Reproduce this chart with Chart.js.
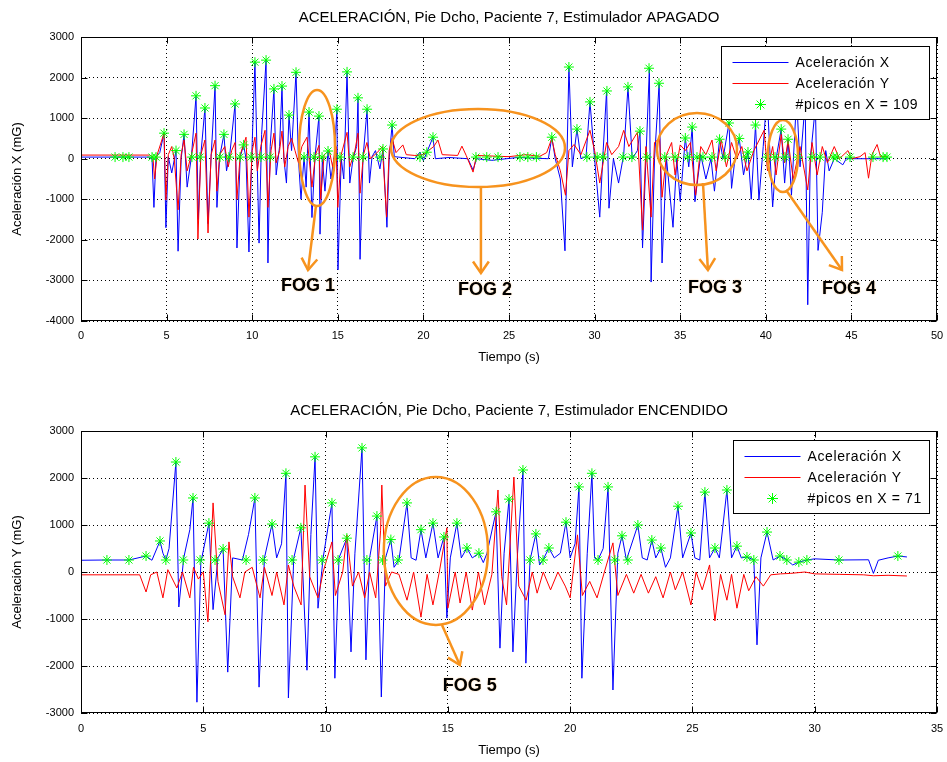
<!DOCTYPE html>
<html>
<head>
<meta charset="utf-8">
<script src="https://cdn.jsdelivr.net/npm/chart.js@4/dist/chart.umd.min.js"></script>
<style>
  body { margin: 0; background: #fff; }
  .panel { position: absolute; left: 0; width: 947px; height: 381px; }
</style>
</head>
<body>
<div class="panel" style="top:0"><canvas id="apagado" width="947" height="381"></canvas></div>
<div class="panel" style="top:381px"><canvas id="encendido" width="947" height="381"></canvas></div>
<script>
// ---- data: [tiempo (s), aceleracion (mG)] ----
const topAccX = [
  [0,40],[4.0,40],[4.15,0],[4.26,-1200],[4.38,50],[4.6,150],[4.85,630],[4.96,-1700],[5.1,50],[5.3,-350],
  [5.55,200],[5.67,-2280],[5.85,0],[6.02,600],[6.2,-700],[6.45,50],[6.72,1550],[6.85,-1500],[7.0,100],[7.24,1250],
  [7.42,-1600],[7.6,50],[7.83,1800],[7.94,-1200],[8.1,50],[8.35,600],[8.5,-300],[8.7,150],[9.0,1350],[9.11,-2200],
  [9.3,50],[9.5,340],[9.64,0],[9.81,-2300],[10.0,400],[10.16,2380],[10.4,-2080],[10.55,600],[10.81,2430],[10.92,-2570],
  [11.05,300],[11.27,1720],[11.4,-400],[11.6,300],[11.74,1790],[11.85,0],[12.0,-600],[12.15,1075],[12.3,200],[12.56,2130],
  [12.7,0],[12.85,-1000],[13.03,50],[13.15,-700],[13.32,1150],[13.49,-1450],[13.67,50],[13.9,1050],[13.96,-1860],[14.1,0],
  [14.25,-800],[14.43,200],[14.6,-500],[14.8,100],[14.95,1220],[15.01,-2740],[15.2,0],[15.35,-500],[15.54,2140],[15.7,-600],
  [15.89,0],[16.1,300],[16.18,1500],[16.3,-2480],[16.47,0],[16.71,1220],[16.85,-600],[17.0,50],[17.2,200],[17.46,-250],
  [17.64,240],[17.87,-1690],[18.0,0],[18.17,830],[18.3,50],[19.5,0],[19.8,165],[20.0,-50],[20.56,530],[20.7,0],
  [21.5,30],[22.6,0],[22.9,-280],[23.1,0],[24.0,-40],[25.5,30],[27.3,0],[27.5,530],[27.7,0],[28.0,-500],
  [28.27,-2270],[28.5,2260],[28.7,-200],[28.97,730],[29.2,0],[29.5,50],[29.73,1400],[30.0,0],[30.3,-1440],[30.5,200],
  [30.7,1670],[30.84,-1220],[31.1,0],[31.4,-600],[31.7,100],[31.95,1770],[32.2,0],[32.5,200],[32.65,680],[32.8,-2200],
  [33.2,2230],[33.3,-3040],[33.5,0],[33.77,1860],[33.94,-2570],[34.2,0],[34.58,-1690],[34.8,0],[35.0,-1050],[35.3,510],
  [35.5,-200],[35.7,780],[35.86,-1060],[36.2,100],[36.5,-500],[36.8,0],[37.0,-800],[37.3,480],[37.5,0],[37.85,880],
  [38.0,-730],[38.2,0],[38.45,500],[38.7,-400],[38.96,165],[39.15,-1000],[39.4,830],[39.6,-1020],[39.85,300],[40.07,1600],
  [40.4,-1190],[40.6,0],[40.9,730],[41.1,-600],[41.3,480],[41.5,-900],[41.8,1500],[42.0,-200],[42.3,1400],[42.45,-3600],
  [42.6,0],[42.9,1300],[43.05,-2260],[43.3,-1320],[43.5,200],[43.7,-300],[44.0,0],[44.5,-150],[44.7,0],[47.1,0]
];
const topAccY = [
  [0,90],[4.0,90],[4.2,50],[4.3,-500],[4.45,100],[4.85,630],[4.96,-1020],[5.1,100],[5.3,300],[5.45,0],
  [5.67,-1260],[5.85,100],[6.02,460],[6.2,-300],[6.45,100],[6.72,630],[6.83,-1980],[7.0,100],[7.24,460],[7.42,-1830],
  [7.6,100],[7.83,460],[7.94,-800],[8.1,100],[8.4,300],[8.6,-200],[8.8,200],[9.0,400],[9.11,-1000],[9.3,100],
  [9.64,530],[9.81,-1440],[10.0,200],[10.16,530],[10.3,-300],[10.5,300],[10.75,700],[10.92,-1200],[11.1,200],[11.27,630],
  [11.4,-100],[11.6,200],[11.74,680],[11.9,-200],[12.1,300],[12.3,500],[12.5,200],[12.7,-100],[12.9,300],[13.2,530],
  [13.49,-700],[13.7,100],[13.9,330],[14.0,-1000],[14.2,100],[14.5,200],[14.7,-200],[14.9,300],[15.0,-1200],[15.2,100],
  [15.54,650],[15.7,-200],[16.0,200],[16.18,630],[16.3,-850],[16.5,100],[16.7,400],[16.9,0],[17.3,150],[17.6,300],
  [17.85,-1440],[18.0,200],[18.17,500],[18.4,150],[18.8,340],[19.0,100],[19.5,80],[20.0,100],[20.6,300],[20.85,460],
  [21.1,100],[22.0,80],[22.25,310],[22.5,80],[22.9,-330],[23.1,80],[25.0,50],[26.0,100],[26.8,60],[27.2,150],
  [27.5,500],[27.7,100],[28.0,-300],[28.3,-900],[28.5,200],[28.8,350],[29.2,100],[29.73,700],[30.0,200],[30.3,-600],
  [30.7,400],[31.0,100],[31.4,300],[31.7,700],[32.0,300],[32.5,650],[32.8,-1760],[33.0,300],[33.3,-1440],[33.5,400],
  [33.8,500],[33.94,-950],[34.2,100],[34.5,400],[34.7,-400],[35.0,340],[35.3,200],[35.6,400],[35.9,-900],[36.2,300],
  [36.5,100],[36.86,460],[37.1,-300],[37.4,460],[37.7,-200],[38.0,400],[38.3,0],[38.6,300],[38.9,-300],[39.3,200],
  [39.9,700],[40.1,-300],[40.4,300],[40.6,-400],[40.9,600],[41.1,-100],[41.3,450],[41.6,-500],[42.0,300],[42.45,-770],
  [42.7,400],[43.0,-400],[43.3,300],[43.6,-100],[44.0,300],[44.3,0],[44.8,200],[45.0,0],[45.5,50],[45.8,150],
  [46.0,-480],[46.2,100],[46.5,350],[46.7,50],[47.1,60]
];
const topPeaksX = [
  [1.99,40],[2.45,40],[2.8,40],[4.15,40],[4.38,40],[4.85,630],[5.55,200],[6.02,600],[6.48,40],[6.72,1550],
  [6.95,40],[7.24,1250],[7.83,1800],[8.12,40],[8.35,600],[8.64,40],[9.0,1350],[9.29,40],[9.5,340],[9.93,40],
  [10.16,2380],[10.51,40],[10.81,2430],[11.04,40],[11.27,1720],[11.74,1790],[12.15,1075],[12.56,2130],[13.03,40],[13.32,1150],
  [13.61,40],[13.9,1050],[14.08,40],[14.43,190],[14.95,1220],[15.13,40],[15.54,2140],[15.89,40],[16.18,1500],[16.47,40],
  [16.71,1220],[17.46,40],[17.64,240],[18.17,830],[19.8,40],[20.2,160],[20.56,530],[23.07,40],[23.7,40],[24.36,40],
  [25.64,40],[26.1,40],[26.6,40],[27.5,530],[28.5,2260],[28.97,730],[29.55,40],[29.73,1400],[30.15,40],[30.5,40],
  [30.72,1670],[31.66,40],[31.95,1770],[32.18,40],[32.65,680],[33.06,40],[33.18,2230],[33.76,1860],[34.1,40],[34.7,40],
  [35.3,510],[35.45,40],[35.7,780],[35.98,40],[36.33,40],[36.86,40],[37.3,480],[37.62,40],[37.85,880],[38.45,500],
  [38.85,40],[38.96,165],[39.4,830],[40.07,40],[40.54,40],[40.9,730],[41.12,40],[41.3,480],[41.88,40],[42.7,40],
  [43.17,40],[43.93,40],[44.16,40],[44.92,40],[46.26,40],[46.85,40],[47.08,40]
];

const bottomAccX = [
  [0,250],[1.0,255],[1.96,255],[2.66,340],[2.9,250],[3.23,660],[3.35,400],[3.47,255],[3.6,500],[3.88,2340],
  [4.0,-745],[4.2,300],[4.45,900],[4.58,1575],[4.74,-2770],[4.9,200],[5.23,1040],[5.4,-800],[5.6,300],[5.81,490],
  [6.0,-2130],[6.2,300],[6.6,255],[6.85,800],[7.11,1575],[7.28,-2450],[7.5,300],[7.81,1020],[8.0,300],[8.2,600],
  [8.38,2100],[8.48,-2680],[8.7,300],[8.99,940],[9.24,-2090],[9.4,800],[9.57,2450],[9.69,-770],[9.9,300],[10.26,1470],
  [10.38,-2260],[10.55,300],[10.87,720],[11.04,-1700],[11.2,400],[11.49,2640],[11.65,-1870],[11.8,300],[12.1,1190],[12.28,-2660],
  [12.45,300],[12.67,690],[12.8,100],[13.0,255],[13.33,1470],[13.5,300],[13.7,250],[13.9,900],[14.1,300],[14.39,1040],
  [14.6,300],[14.84,745],[14.96,-980],[15.1,300],[15.37,1040],[15.55,300],[15.78,510],[16.0,300],[16.27,400],[16.45,200],
  [16.6,400],[16.97,1280],[17.13,-1620],[17.3,400],[17.5,1550],[17.66,-1700],[17.85,400],[18.07,2170],[18.19,-1940],[18.36,255],
  [18.6,810],[18.75,150],[18.89,255],[19.13,510],[19.35,300],[19.6,400],[19.83,1060],[20.0,300],[20.2,600],[20.36,1810],
  [20.48,-2260],[20.7,400],[20.89,2100],[21.0,300],[21.14,255],[21.35,500],[21.55,1810],[21.75,-2510],[21.95,400],[22.12,770],
  [22.3,255],[22.77,1000],[22.95,300],[23.15,255],[23.34,680],[23.5,300],[23.71,510],[23.9,100],[24.1,300],[24.41,1400],
  [24.6,300],[24.94,830],[25.1,300],[25.3,255],[25.51,1700],[25.7,300],[25.92,510],[26.1,300],[26.41,1745],[26.6,300],
  [26.82,550],[27.0,300],[27.23,320],[27.51,255],[27.64,-1550],[27.8,300],[28.05,850],[28.3,255],[28.58,340],[28.86,255],
  [29.1,150],[29.35,210],[29.68,255],[30.0,280],[31.0,255],[32.2,260],[32.4,-30],[32.6,250],[33.0,300],[33.4,340],
  [33.77,320]
];
const bottomAccY = [
  [0,-60],[2.4,-60],[2.66,-425],[2.85,-60],[3.1,0],[3.35,-550],[3.55,50],[3.92,-340],[4.15,0],[4.45,-550],
  [4.6,100],[4.8,-150],[5.0,0],[5.19,-1060],[5.4,1470],[5.6,-200],[5.89,-910],[6.05,640],[6.2,-100],[6.5,-550],
  [6.7,0],[7.0,100],[7.32,-550],[7.5,100],[7.81,-500],[8.0,0],[8.3,-700],[8.48,150],[8.7,-300],[9.0,-700],
  [9.16,1850],[9.35,-100],[9.69,-550],[9.9,0],[10.26,640],[10.4,-500],[10.7,0],[10.87,790],[11.1,-300],[11.35,0],
  [11.6,-550],[11.8,0],[12.05,-550],[12.25,890],[12.3,1850],[12.45,-300],[12.7,0],[13.0,-50],[13.33,-600],[13.6,0],
  [13.9,-960],[14.15,-50],[14.39,-700],[14.65,0],[14.96,940],[15.0,-770],[15.3,0],[15.5,-660],[15.75,0],[16.0,-810],
  [16.25,0],[16.5,-700],[16.8,-50],[17.05,1745],[17.2,-100],[17.4,-700],[17.7,2020],[17.9,-300],[18.2,-600],[18.45,0],
  [18.65,-450],[18.9,0],[19.2,-380],[19.5,0],[19.8,-300],[20.0,-550],[20.3,790],[20.5,-500],[20.8,-200],[21.1,-550],
  [21.4,0],[21.75,620],[21.95,-500],[22.3,-50],[22.6,-450],[22.9,-50],[23.2,-450],[23.5,-100],[23.8,-550],[24.1,0],
  [24.3,-380],[24.6,0],[24.94,-700],[25.15,0],[25.4,-380],[25.7,150],[25.92,-1040],[26.15,-50],[26.41,-600],[26.6,-50],
  [26.82,-770],[27.1,-50],[27.3,-400],[27.6,-100],[27.9,-300],[28.2,-60],[28.6,-40],[29.0,-30],[29.6,0],[30.0,-40],
  [31.0,-50],[32.0,-60],[32.4,-80],[33.0,-70],[33.77,-85]
];
const bottomPeaksX = [
  [1.06,255],[1.96,255],[2.66,340],[3.23,660],[3.47,255],[3.88,2340],[4.18,255],[4.58,1575],[4.87,255],[5.23,1040],
  [5.48,255],[5.81,490],[6.75,255],[7.11,1575],[7.44,255],[7.81,1020],[8.38,2100],[8.63,255],[8.99,940],[9.57,2450],
  [9.85,255],[10.26,1470],[10.51,255],[10.87,720],[11.49,2640],[11.69,255],[12.1,1190],[12.33,255],[12.67,690],[12.96,255],
  [13.33,1470],[13.9,900],[14.39,1040],[14.84,745],[15.37,1040],[15.78,510],[16.27,400],[16.97,1280],[17.5,1550],[18.07,2170],
  [18.36,255],[18.6,810],[18.89,255],[19.13,510],[19.83,1060],[20.36,1810],[20.89,2100],[21.14,255],[21.55,1810],[21.83,255],
  [22.12,770],[22.36,255],[22.77,1000],[23.34,680],[23.71,510],[24.41,1400],[24.94,830],[25.51,1700],[25.92,510],[26.41,1745],
  [26.82,550],[27.23,320],[27.51,255],[28.05,850],[28.58,340],[28.86,255],[29.35,210],[29.68,255],[30.99,255],[33.4,340]
];

// orange FOG marks (data units)
const topFogs = [
  { label: 'FOG 1', cx: 13.79, cy: 264, rx: 1.05, ry: 1430, from: [13.73, -1141], to: [13.26, -2744], at: [13.26, -3140] },
  { label: 'FOG 2', cx: 23.19, cy: 264, rx: 5.08, ry: 961, from: [23.36, -672], to: [23.36, -2817], at: [23.6, -3236] },
  { label: 'FOG 3', cx: 35.98, cy: 239, rx: 2.34, ry: 887, from: [36.33, -599], to: [36.62, -2744], at: [37.03, -3187] },
  { label: 'FOG 4', cx: 41.0, cy: 67, rx: 0.88, ry: 887, from: [41.18, -772], to: [44.45, -2744], at: [44.86, -3211] }
];
const bottomFogs = [
  { label: 'FOG 5', cx: 14.51, cy: 447, rx: 2.13, ry: 1575, from: [14.76, -1128], to: [15.49, -1979], at: [15.9, -2426] }
];

const FONT = '"Liberation Sans", Arial, Helvetica, sans-serif';
const ORANGE = '#f7931e';

function starAt(ctx, x, y, r) {
  ctx.beginPath();
  for (let k = 0; k < 4; k++) {
    const a = k * Math.PI / 4;
    ctx.moveTo(x - r * Math.cos(a), y - r * Math.sin(a));
    ctx.lineTo(x + r * Math.cos(a), y + r * Math.sin(a));
  }
  ctx.stroke();
}

function matlabLook(fogs, legend) {
  return {
    id: 'matlabLook',
    beforeDraw(chart) {
      const ctx = chart.ctx;
      ctx.save();
      ctx.fillStyle = '#fff';
      ctx.fillRect(0, 0, chart.width, chart.height);
      ctx.restore();
    },
    afterDatasetsDraw(chart) {
      const { ctx, scales: { x, y } } = chart;
      ctx.save();
      // fog ellipses + arrows
      fogs.forEach(f => {
        const cx = x.getPixelForValue(f.cx), cy = y.getPixelForValue(f.cy);
        const rx = Math.abs(x.getPixelForValue(f.cx + f.rx) - cx);
        const ry = Math.abs(y.getPixelForValue(f.cy + f.ry) - cy);
        ctx.strokeStyle = ORANGE;
        ctx.lineWidth = 2.5;
        ctx.beginPath();
        ctx.ellipse(cx, cy, rx, ry, 0, 0, Math.PI * 2);
        ctx.stroke();
        const fx = x.getPixelForValue(f.from[0]), fy = y.getPixelForValue(f.from[1]);
        const tx = x.getPixelForValue(f.to[0]), ty = y.getPixelForValue(f.to[1]);
        ctx.beginPath();
        ctx.moveTo(fx, fy);
        ctx.lineTo(tx, ty);
        ctx.stroke();
        const ang = Math.atan2(ty - fy, tx - fx);
        ctx.beginPath();
        ctx.moveTo(tx - 14 * Math.cos(ang - 0.6), ty - 14 * Math.sin(ang - 0.6));
        ctx.lineTo(tx, ty);
        ctx.lineTo(tx - 14 * Math.cos(ang + 0.6), ty - 14 * Math.sin(ang + 0.6));
        ctx.stroke();
        ctx.font = 'bold 18px ' + FONT;
        ctx.textAlign = 'center';
        ctx.textBaseline = 'middle';
        ctx.shadowColor = 'rgba(247,147,30,0.55)';
        ctx.shadowBlur = 1.5;
        ctx.fillStyle = '#000';
        ctx.fillText(f.label, x.getPixelForValue(f.at[0]), y.getPixelForValue(f.at[1]));
        ctx.shadowBlur = 0;
      });
      ctx.restore();
    },
    afterDraw(chart) {
      const { ctx, chartArea: a, scales: { x, y } } = chart;
      ctx.save();
      ctx.strokeStyle = '#000';
      ctx.lineWidth = 1;
      const L = Math.round(a.left) + 0.5, R = Math.round(a.right) - 0.5;
      const T = Math.round(a.top) + 0.5, B = Math.round(a.bottom) - 0.5;
      ctx.beginPath();
      x.ticks.forEach(t => {
        const px = Math.round(x.getPixelForValue(t.value)) + 0.5;
        ctx.moveTo(px, B); ctx.lineTo(px, B - 6);
        ctx.moveTo(px, T); ctx.lineTo(px, T + 6);
      });
      y.ticks.forEach(t => {
        const py = Math.round(y.getPixelForValue(t.value)) + 0.5;
        ctx.moveTo(L, py); ctx.lineTo(L + 6, py);
        ctx.moveTo(R, py); ctx.lineTo(R - 6, py);
      });
      ctx.stroke();
      ctx.strokeRect(L, T, R - L, B - T);

      // legend box
      const bx = Math.round(a.right - 8 - legend.w) + 0.5, by = Math.round(a.top + 9) + 0.5;
      ctx.fillStyle = '#fff';
      ctx.fillRect(bx, by, legend.w, 73);
      ctx.strokeRect(bx, by, legend.w, 73);
      const rows = [by + 16, by + 37, by + 58];
      ctx.lineWidth = 1;
      ctx.strokeStyle = '#0000ff';
      ctx.beginPath(); ctx.moveTo(bx + 11, rows[0]); ctx.lineTo(bx + 67, rows[0]); ctx.stroke();
      ctx.strokeStyle = '#ff0000';
      ctx.beginPath(); ctx.moveTo(bx + 11, rows[1]); ctx.lineTo(bx + 67, rows[1]); ctx.stroke();
      ctx.strokeStyle = '#00ff00';
      ctx.lineWidth = 1;
      starAt(ctx, bx + 39, rows[2], 5.5);
      ctx.fillStyle = '#000';
      ctx.font = '14px ' + FONT;
      ctx.letterSpacing = '0.6px';
      ctx.textAlign = 'left';
      ctx.textBaseline = 'middle';
      legend.labels.forEach((s, i) => ctx.fillText(s, bx + 74, rows[i] + 1));
      ctx.restore();
    }
  };
}

function lineSet(label, pts, color, order) {
  return {
    label, order,
    data: pts.map(([t, v]) => ({ x: t, y: v })),
    showLine: true, borderColor: color, backgroundColor: color,
    borderWidth: 1, pointRadius: 0, tension: 0
  };
}
function peakSet(label, pts) {
  return {
    label, order: 0,
    data: pts.map(([t, v]) => ({ x: t, y: v })),
    showLine: false, pointStyle: 'star', pointRadius: 5,
    borderColor: '#00ff00', backgroundColor: '#00ff00', borderWidth: 1
  };
}

function makeChart(id, opt) {
  return new Chart(document.getElementById(id), {
    type: 'scatter',
    data: {
      datasets: [
        peakSet(opt.peakLabel, opt.peaks),
        lineSet('Aceleración Y', opt.accY, '#ff0000', 1),
        lineSet('Aceleración X', opt.accX, '#0000ff', 2)
      ]
    },
    options: {
      responsive: false,
      animation: false,
      layout: { padding: { left: 0, right: 10, top: 0, bottom: 0 } },
      plugins: {
        legend: { display: false },
        tooltip: { enabled: false },
        title: {
          display: true, fullSize: false, text: opt.title, color: '#000',
          font: { family: FONT, size: 15, weight: 'normal' },
          padding: opt.titlePad
        }
      },
      scales: {
        x: {
          type: 'linear', min: 0, max: opt.xMax,
          afterFit: s => { s.height = opt.xAxisH; s.paddingLeft = 0; s.paddingRight = 0; },
          ticks: { stepSize: 5, color: '#000', font: { family: FONT, size: 11 }, padding: opt.xTickPad, maxRotation: 0 },
          grid: { color: '#000', lineWidth: 1, drawTicks: false },
          border: { display: false, dash: [1, 3] },
          title: { display: true, text: 'Tiempo (s)', color: '#000', font: { family: FONT, size: 13 }, padding: { top: 0, bottom: opt.xTitlePad } }
        },
        y: {
          min: opt.yMin, max: opt.yMax,
          afterFit: s => { s.width = 81; s.paddingTop = 0; s.paddingBottom = 0; },
          ticks: { stepSize: 1000, color: '#000', font: { family: FONT, size: 11 }, padding: 7, callback: v => String(v) },
          grid: { color: '#000', lineWidth: 1, drawTicks: false },
          border: { display: false, dash: [1, 3] },
          title: { display: true, text: opt.yTitle, color: '#000', font: { family: FONT, size: 13 }, padding: { top: 10, bottom: 0 } }
        }
      }
    },
    plugins: [matlabLook(opt.fogs, { w: opt.legendW, labels: ['Aceleración X', 'Aceleración Y', opt.peakLabel] })]
  });
}

makeChart('apagado', {
  title: 'ACELERACIÓN, Pie Dcho, Paciente 7, Estimulador APAGADO',
  titlePad: { top: 9, bottom: 10 },
  accX: topAccX, accY: topAccY, peaks: topPeaksX,
  peakLabel: '#picos en X = 109',
  xMax: 50, yMin: -4000, yMax: 3000,
  xAxisH: 60, xTickPad: 8, xTitlePad: 16,
  yTitle: 'Aceleración X (mG)',
  fogs: topFogs, legendW: 208
});

makeChart('encendido', {
  title: 'ACELERACIÓN, Pie Dcho, Paciente 7, Estimulador ENCENDIDO',
  titlePad: { top: 21, bottom: 11 },
  accX: bottomAccX, accY: bottomAccY, peaks: bottomPeaksX,
  peakLabel: '#picos en X = 71',
  xMax: 35, yMin: -3000, yMax: 3000,
  xAxisH: 49, xTickPad: 9, xTitlePad: 4,
  yTitle: 'Aceleración Y (mG)',
  fogs: bottomFogs, legendW: 196
});
</script>
</body>
</html>
